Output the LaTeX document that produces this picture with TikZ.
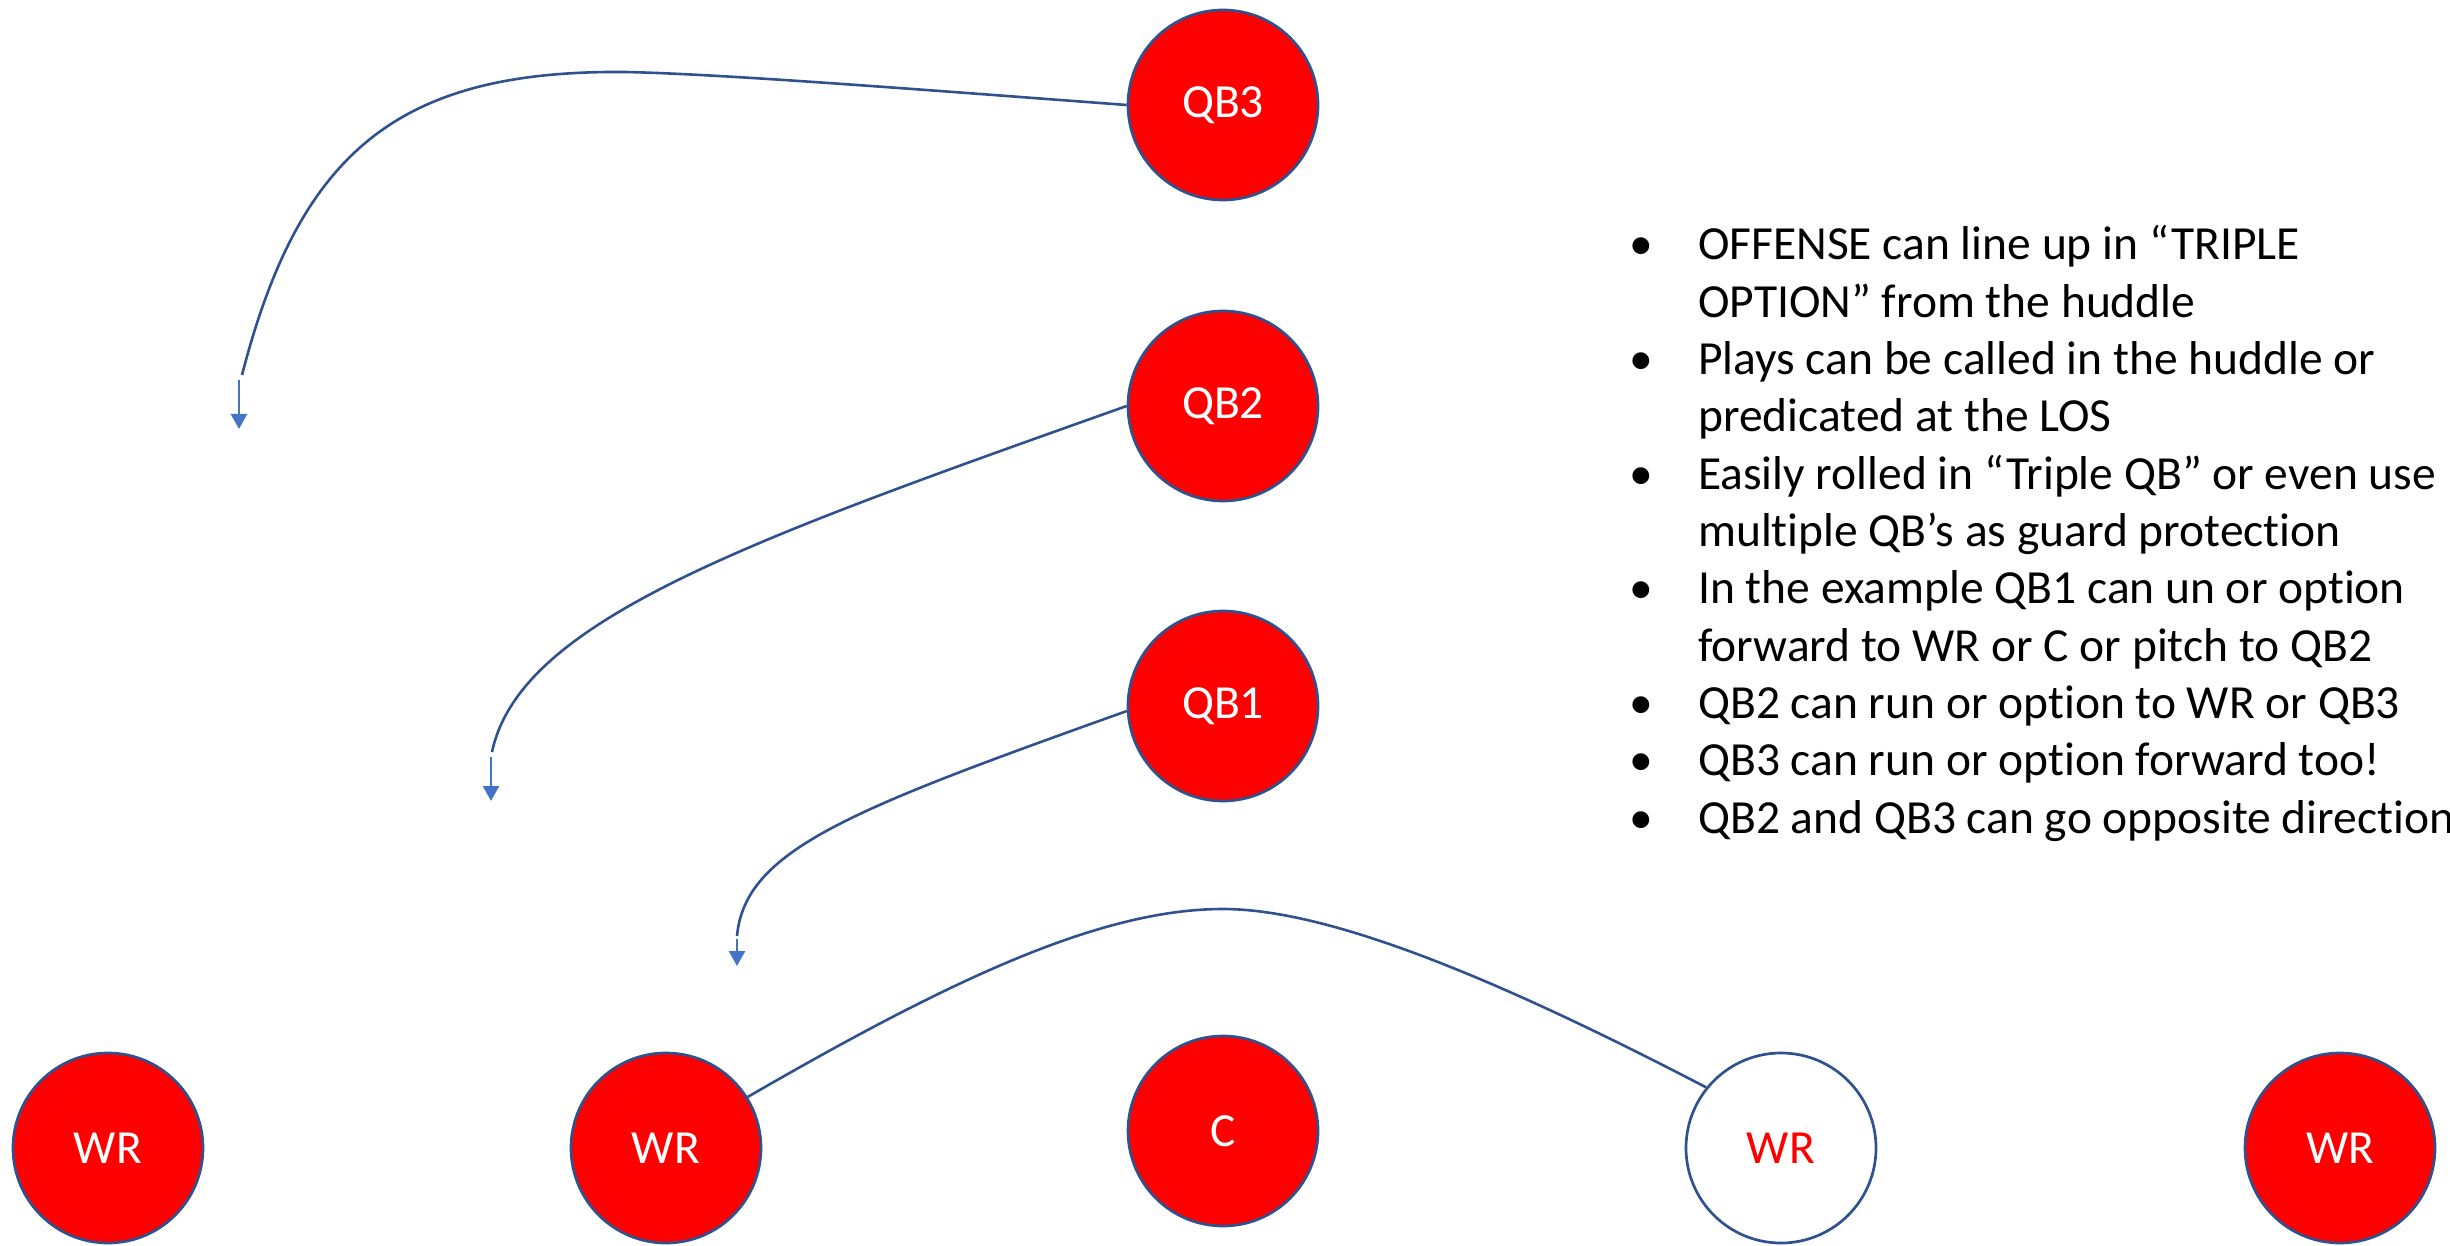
\documentclass[tikz,border=0pt]{standalone}
\usepackage{fontspec}
\setmainfont{Carlito}[Ligatures=NoCommon]
\usetikzlibrary{arrows.meta}
\definecolor{outl}{HTML}{2F528F}
\definecolor{arr}{HTML}{4472C4}
\definecolor{pred}{HTML}{FF0000}
\begin{document}
\begin{tikzpicture}[x=1pt,y=-1pt,
  player/.style={circle, draw=outl, line width=2.7pt, fill=pred, minimum size=190pt, inner sep=0pt, text=white, font=\fontsize{47.5}{57}\selectfont},
  openplayer/.style={player, fill=white, text=pred},
  route/.style={draw=outl, line width=2.6pt},
  runarrow/.style={draw=arr, line width=2.7pt, -{Triangle[width=16pt,length=15pt]}},
  bultext/.style={anchor=base west, inner sep=0pt, font=\fontsize{47.5}{57}\selectfont},
  bul/.style={anchor=base, inner sep=0pt, font=\fontsize{47.5}{57}\selectfont}]
\useasboundingbox (0,0) rectangle (2450,1246);

% players
\node[player] (qb3) at (1223,105) {QB3};
\node[player] (qb2) at (1223,406) {QB2};
\node[player] (qb1) at (1223,706) {QB1};
\node[player] (wr1) at (108,1148) {WR};
\node[player] (wr2) at (666,1148) {WR};
\node[player] (c) at (1223,1131) {C};
\node[openplayer] (wr3) at (1781,1148) {WR};
\node[player] (wr4) at (2340,1148) {WR};

% route ends and arrows
\coordinate (e3) at (242,375);
\coordinate (a3s) at (239,380);
\coordinate (a3e) at (239,429);
\coordinate (e2) at (492,752);
\coordinate (a2s) at (491,757);
\coordinate (a2e) at (491,801);
\coordinate (e1) at (737,936);
\coordinate (a1s) at (737,939);
\coordinate (a1e) at (737,966);

\draw[route] (qb3.west) .. controls (900,88) and (720,74) .. (625,72)
  .. controls (400,70) and (300,150) .. (e3);
\draw[runarrow] (a3s) -- (a3e);

\draw[route] (qb2.west) .. controls (750,540) and (520,620) .. (e2);
\draw[runarrow] (a2s) -- (a2e);

\draw[route] (qb1.183) .. controls (850,810) and (745,850) .. (e1);
\draw[runarrow] (a1s) -- (a1e);

\draw[route] (wr2.32) .. controls (950,980) and (1100,909) .. (1223,909)
  .. controls (1330,909) and (1500,980) .. (wr3.141);

% bullet list
\node[bul] (b1) at (1641,260) {•};
\node[bultext] (t1) at (1698,260) {OFFENSE can line up in “TRIPLE};
\node[bultext] (t2) at (1698,317.3) {OPTION” from the huddle};
\node[bul] (b3) at (1641,374.6) {•};
\node[bultext] (t3) at (1698,374.6) {Plays can be called in the huddle or};
\node[bultext] (t4) at (1698,431.9) {predicated at the LOS};
\node[bul] (b5) at (1641,489.2) {•};
\node[bultext] (t5) at (1698,489.2) {Easily rolled in “Triple QB” or even use};
\node[bultext] (t6) at (1698,546.5) {multiple QB’s as guard protection};
\node[bul] (b7) at (1641,603.8) {•};
\node[bultext] (t7) at (1698,603.8) {In the example QB1 can un or option};
\node[bultext] (t8) at (1698,661.1) {forward to WR or C or pitch to QB2};
\node[bul] (b9) at (1641,718.4) {•};
\node[bultext] (t9) at (1698,718.4) {QB2 can run or option to WR or QB3};
\node[bul] (b10) at (1641,775.7) {•};
\node[bultext] (t10) at (1698,775.7) {QB3 can run or option forward too!};
\node[bul] (b11) at (1641,833) {•};
\node[bultext] (t11) at (1698,833) {QB2 and QB3 can go opposite direction};
\end{tikzpicture}
\end{document}
